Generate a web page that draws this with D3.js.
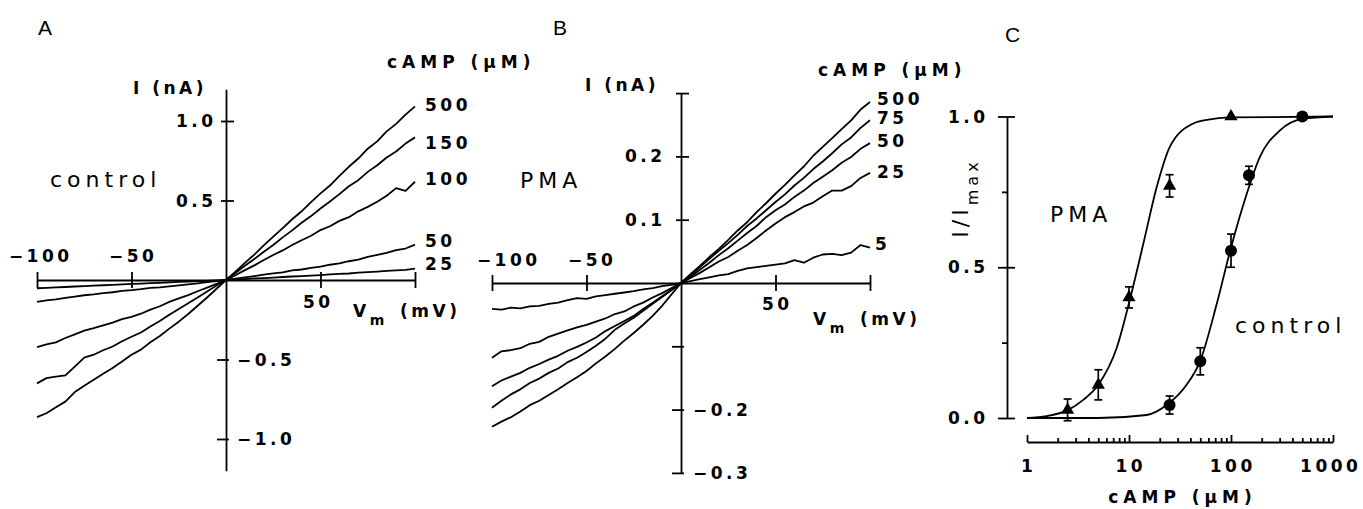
<!DOCTYPE html>
<html>
<head>
<meta charset="utf-8">
<title>cAMP I-V curves</title>
<script src="https://cdn.jsdelivr.net/npm/d3@7/dist/d3.min.js"></script>
<style>
  body { margin: 0; background: #fff; }
  text { fill: #000; }
  .lab { font-family: "DejaVu Sans", sans-serif; font-size: 17px; font-weight: bold; letter-spacing: 3.5px; }
  .wide { letter-spacing: 5px; }
  .word { font-family: "DejaVu Sans", sans-serif; font-size: 22px; letter-spacing: 5px; }
  .panel { font-family: "Liberation Sans", Arial, sans-serif; font-size: 21px; }
</style>
</head>
<body>
<div id="figure"></div>
<script>
// ---------- data ----------

// ramp voltages (mV) shared by every I-V trace
const ivVoltage = [-100, -95, -90, -85, -80, -75, -70, -65, -60, -55, -50, -45, -40, -35, -30, -25, -20, -15, -10, -5,
  0, 5, 10, 15, 20, 25, 30, 35, 40, 45, 50, 55, 60, 65, 70, 75, 80, 85, 90, 95, 100];

// panel A, control, current in nA
const controlLabels = ['500', '150', '100', '50', '25'];
const control500 = [-0.862, -0.838, -0.800, -0.765, -0.705, -0.665, -0.628, -0.590, -0.553, -0.512, -0.470, -0.438, -0.392, -0.352, -0.306, -0.262, -0.214, -0.162, -0.110, -0.055,
  0, 0.052, 0.108, 0.160, 0.218, 0.273, 0.326, 0.382, 0.432, 0.490, 0.545, 0.594, 0.655, 0.712, 0.764, 0.826, 0.872, 0.935, 0.982, 1.040, 1.092];
const control150 = [-0.650, -0.617, -0.608, -0.600, -0.545, -0.488, -0.470, -0.442, -0.418, -0.385, -0.357, -0.330, -0.292, -0.258, -0.218, -0.182, -0.146, -0.110, -0.072, -0.035,
  0, 0.044, 0.090, 0.132, 0.178, 0.220, 0.268, 0.312, 0.360, 0.402, 0.450, 0.494, 0.540, 0.590, 0.628, 0.680, 0.722, 0.770, 0.808, 0.858, 0.897];
const control100 = [-0.422, -0.405, -0.392, -0.365, -0.342, -0.318, -0.302, -0.285, -0.268, -0.246, -0.232, -0.212, -0.186, -0.165, -0.138, -0.116, -0.095, -0.071, -0.048, -0.024,
  0, 0.030, 0.062, 0.092, 0.126, 0.157, 0.186, 0.220, 0.250, 0.278, 0.314, 0.338, 0.372, 0.395, 0.432, 0.460, 0.492, 0.530, 0.578, 0.560, 0.618];
const control50 = [-0.138, -0.128, -0.122, -0.112, -0.104, -0.096, -0.090, -0.082, -0.077, -0.068, -0.064, -0.058, -0.050, -0.046, -0.040, -0.034, -0.028, -0.021, -0.014, -0.007,
  0, 0.008, 0.016, 0.025, 0.034, 0.042, 0.048, 0.060, 0.066, 0.076, 0.084, 0.096, 0.104, 0.118, 0.128, 0.145, 0.158, 0.170, 0.188, 0.198, 0.222];
const control25 = [-0.052, -0.049, -0.046, -0.044, -0.041, -0.038, -0.036, -0.033, -0.031, -0.028, -0.025, -0.023, -0.020, -0.018, -0.015, -0.012, -0.010, -0.007, -0.005, -0.002,
  0, 0.003, 0.006, 0.010, 0.012, 0.015, 0.019, 0.022, 0.025, 0.028, 0.031, 0.035, 0.038, 0.041, 0.046, 0.050, 0.053, 0.057, 0.060, 0.064, 0.072];

// panel B, PMA, current in nA
const pmaLabels = ['500', '75', '50', '25', '5'];
const pma500 = [-0.227, -0.219, -0.212, -0.203, -0.193, -0.186, -0.177, -0.168, -0.158, -0.149, -0.139, -0.127, -0.116, -0.104, -0.091, -0.079, -0.066, -0.052, -0.036, -0.018,
  0, 0.014, 0.027, 0.041, 0.054, 0.068, 0.083, 0.096, 0.112, 0.126, 0.141, 0.155, 0.170, 0.184, 0.201, 0.215, 0.229, 0.243, 0.257, 0.274, 0.286];
const pma75 = [-0.197, -0.186, -0.176, -0.168, -0.158, -0.151, -0.142, -0.135, -0.125, -0.118, -0.109, -0.099, -0.088, -0.074, -0.064, -0.055, -0.044, -0.033, -0.022, -0.011,
  0, 0.012, 0.025, 0.038, 0.051, 0.063, 0.076, 0.090, 0.102, 0.115, 0.128, 0.140, 0.154, 0.166, 0.180, 0.192, 0.205, 0.219, 0.230, 0.245, 0.257];
const pma50 = [-0.163, -0.154, -0.148, -0.142, -0.134, -0.128, -0.121, -0.115, -0.107, -0.101, -0.094, -0.086, -0.076, -0.068, -0.060, -0.052, -0.041, -0.031, -0.021, -0.011,
  0, 0.010, 0.021, 0.032, 0.044, 0.055, 0.067, 0.079, 0.090, 0.104, 0.115, 0.124, 0.136, 0.146, 0.158, 0.168, 0.178, 0.190, 0.199, 0.212, 0.221];
const pma25 = [-0.118, -0.108, -0.106, -0.103, -0.096, -0.093, -0.085, -0.080, -0.075, -0.070, -0.066, -0.061, -0.056, -0.049, -0.045, -0.037, -0.031, -0.023, -0.016, -0.008,
  0, 0.008, 0.016, 0.025, 0.034, 0.041, 0.051, 0.060, 0.071, 0.083, 0.094, 0.104, 0.112, 0.121, 0.127, 0.137, 0.146, 0.146, 0.153, 0.166, 0.174];
const pma5 = [-0.041, -0.042, -0.039, -0.040, -0.037, -0.036, -0.033, -0.031, -0.027, -0.024, -0.025, -0.021, -0.019, -0.017, -0.015, -0.013, -0.010, -0.008, -0.005, -0.003,
  0, 0.003, 0.006, 0.009, 0.012, 0.014, 0.019, 0.023, 0.025, 0.027, 0.029, 0.031, 0.036, 0.032, 0.040, 0.045, 0.046, 0.044, 0.048, 0.060, 0.056];

// axis ticks of the I-V panels
const ivXTicks = [-100, -50, 50, 100];
const ivXTickLabels = ['−100', '−50', '50'];
const controlYTicks = [1.0, 0.5, -0.5, -1.0];
const controlYLabelled = [1.0, 0.5, -0.5, -1.0];
const pmaYTicks = [0.3, 0.2, 0.1, -0.1, -0.2, -0.3];
const pmaYLabelled = [0.2, 0.1, -0.2, -0.3];

// panel C, dose response (I/Imax), mean and error
const pmaConc = [2.5, 5, 10, 25, 100];
const pmaMean = [0.027, 0.11, 0.40, 0.77, 1.0];
const pmaErr = [0.036, 0.05, 0.035, 0.037, 0];
const ctrlConc = [25, 50, 100, 150, 500];
const ctrlMean = [0.043, 0.188, 0.555, 0.805, 1.0];
const ctrlErr = [0.03, 0.045, 0.055, 0.03, 0];

// fitted curves
const pmaFitConc = [1, 1.56, 2.54, 3.56, 5, 7.57, 10.2, 13.8, 18.7, 25.2, 42.7, 60, 98, 1000];
const pmaFitVal = [0, 0.006, 0.027, 0.06, 0.11, 0.232, 0.393, 0.577, 0.766, 0.90, 0.977, 0.99, 0.997, 1.0];
const ctrlFitConc = [1, 5, 14.9, 23.4, 36.7, 49.7, 72.3, 98, 142.5, 192, 302, 511, 1000];
const ctrlFitVal = [0, 0, 0.01, 0.043, 0.11, 0.188, 0.377, 0.554, 0.743, 0.866, 0.954, 0.993, 1.0];

const doseTicks = [1, 10, 100, 1000];
const doseTickLabels = ['1', '10', '100', '1000'];
const ratioTicks = [0, 0.25, 0.5, 0.75, 1];
const ratioLabelled = [1.0, 0.5, 0.0];

// ---------- drawing ----------

// letter spacing of each text class, needed to re-centre anchored text
const spacing = {lab: 3.5, 'lab wide': 5, word: 5, panel: 0};
const svg = d3.select('#figure').append('svg')
  .attr('width', 1363)
  .attr('height', 509);

// plain text helper, shifts end/middle anchored text to undo trailing letter spacing
function put(parent, str, x, y, cls, anchor) {
  const ls = spacing[cls] || 0;
  const shift = anchor === 'end' ? ls : anchor === 'middle' ? ls / 2 : 0;
  return parent.append('text')
    .attr('class', cls)
    .attr('x', x + shift)
    .attr('y', y)
    .attr('text-anchor', anchor || 'start')
    .text(str);
}

function blackAxis(a) {
  a.selectAll('.domain, .tick line')
    .attr('stroke', '#000')
    .attr('stroke-width', 1.8);
}

function drawIV(cfg) {
  const x = d3.scaleLinear().domain([-100, 100]).range(cfg.xRange);
  const y = d3.scaleLinear().domain(cfg.yDomain).range(cfg.yRange);
  const g = svg.append('g');

  // voltage axis through zero current
  g.append('g')
    .attr('transform', `translate(0,${y(0)})`)
    .call(d3.axisBottom(x).tickValues(ivXTicks).tickSizeOuter(0).tickFormat(''))
    .call(a => a.selectAll('.tick line').attr('y1', -8).attr('y2', 8))
    .call(blackAxis);

  // current axis through zero voltage
  g.append('g')
    .attr('transform', `translate(${x(0)},0)`)
    .call(d3.axisLeft(y).tickValues(cfg.yTicks).tickSizeOuter(0).tickFormat(''))
    .call(a => a.selectAll('.tick line')
      .attr('x1', d => d > 0 ? -5 : -9)
      .attr('x2', d => d > 0 ? 8 : 3))
    .call(blackAxis);

  // traces
  const line = d3.line().x(d => x(d[0])).y(d => y(d[1]));
  g.selectAll('path.trace')
    .data(cfg.traces)
    .join('path')
    .attr('class', 'trace')
    .attr('d', t => line(ivVoltage.map((v, i) => [v, t[i]])))
    .attr('fill', 'none')
    .attr('stroke', '#000')
    .attr('stroke-width', 1.8)
    .attr('stroke-linejoin', 'round');

  // tick labels
  const fmt = d3.format('.1f');
  cfg.yLabelled.forEach(v => {
    if (v > 0) put(g, fmt(v), x(0) - cfg.posGap, y(v) + 6, 'lab', 'end');
    else put(g, fmt(v), x(0) + cfg.negGap, y(v) + 6, 'lab', 'start');
  });
  ivXTickLabels.forEach((t, i) => {
    const v = ivXTicks[i];
    put(g, t, x(v) + cfg.xLabelShift[i], v < 0 ? cfg.negLabelY : cfg.posLabelY, 'lab', 'middle');
  });

  // V_m (mV)
  const vm = put(g, 'V', cfg.vmX, cfg.vmY, 'lab');
  vm.append('tspan').attr('dy', 8).style('font-size', '14px').text('m');
  put(g, '(mV)', cfg.vmX + 47, cfg.vmY, 'lab');

  put(g, 'I (nA)', cfg.iX, cfg.iY, 'lab');
  put(g, 'cAMP (μM)', cfg.campX, cfg.campY, 'lab wide');

  // concentration labels at the ends of the traces
  cfg.names.forEach((n, i) => put(g, n, cfg.nameX[i], cfg.nameY[i], 'lab'));

  put(g, cfg.condition, cfg.condX, cfg.condY, 'word');
  put(g, cfg.letter, cfg.letterX, 35, 'panel');
}

// panel A
drawIV({
  letter: 'A', letterX: 38,
  condition: 'control', condX: 50, condY: 187,
  xRange: [37, 415], yDomain: [-1.2, 1.2], yRange: [470.8, 89.2],
  yTicks: controlYTicks, yLabelled: controlYLabelled, posGap: 13, negGap: 11,
  xLabelShift: [2, 0, -4], negLabelY: 262, posLabelY: 308,
  vmX: 353, vmY: 317, iX: 133, iY: 94, campX: 387, campY: 68,
  traces: [control500, control150, control100, control50, control25],
  names: controlLabels, nameX: [425, 425, 425, 425, 425], nameY: [111, 149, 185, 247, 270]
});

// panel B
drawIV({
  letter: 'B', letterX: 553,
  condition: 'PMA', condX: 520, condY: 188,
  xRange: [492, 870], yDomain: [-0.3, 0.3], yRange: [472.9, 93.1],
  yTicks: pmaYTicks, yLabelled: pmaYLabelled, posGap: 19, negGap: 12,
  xLabelShift: [15, 4, 0], negLabelY: 266, posLabelY: 310,
  vmX: 813, vmY: 325, iX: 585, iY: 91, campX: 818, campY: 76,
  traces: [pma500, pma75, pma50, pma25, pma5],
  names: pmaLabels, nameX: [877, 877, 877, 877, 875], nameY: [105, 124, 147, 178, 250]
});

// panel C, dose response
const xC = d3.scaleLog().domain([1, 1000]).range([1027, 1333]);
const yC = d3.scaleLinear().domain([0, 1]).range([418, 116.5]);
const gC = svg.append('g');
const isDecade = d => Math.abs(Math.log10(d) - Math.round(Math.log10(d))) < 1e-9;

gC.append('g')
  .attr('transform', 'translate(0,442)')
  .call(d3.axisBottom(xC).tickValues(xC.ticks()).tickSizeOuter(0).tickFormat(''))
  .call(a => a.selectAll('.tick line').attr('y2', d => isDecade(d) ? -7 : -4))
  .call(blackAxis);

gC.append('g')
  .attr('transform', 'translate(1007,0)')
  .call(d3.axisLeft(yC).tickValues(ratioTicks).tickSizeOuter(0).tickFormat(''))
  .call(a => a.selectAll('.tick line')
    .attr('x1', d => (d * 4) % 2 === 0 ? -9 : -5)
    .attr('x2', d => (d * 4) % 2 === 0 ? 8 : 0))
  .call(blackAxis);

const fitLine = d3.line().x(d => xC(d[0])).y(d => yC(d[1])).curve(d3.curveMonotoneX);
gC.selectAll('path.fit')
  .data([pmaFitConc.map((c, i) => [c, pmaFitVal[i]]), ctrlFitConc.map((c, i) => [c, ctrlFitVal[i]])])
  .join('path')
  .attr('class', 'fit')
  .attr('d', fitLine)
  .attr('fill', 'none')
  .attr('stroke', '#000')
  .attr('stroke-width', 1.8);

// error bars, both groups
const pts = pmaConc.map((c, i) => ({c, m: pmaMean[i], e: pmaErr[i], kind: 'pma'}))
  .concat(ctrlConc.map((c, i) => ({c, m: ctrlMean[i], e: ctrlErr[i], kind: 'ctrl'})));
const bars = gC.selectAll('g.err')
  .data(pts.filter(d => d.e > 0))
  .join('g')
  .attr('class', 'err')
  .attr('stroke', '#000')
  .attr('stroke-width', 1.7);
bars.append('line')
  .attr('x1', d => xC(d.c)).attr('x2', d => xC(d.c))
  .attr('y1', d => yC(d.m - d.e)).attr('y2', d => yC(d.m + d.e));
bars.append('line')
  .attr('x1', d => xC(d.c) - 4).attr('x2', d => xC(d.c) + 4)
  .attr('y1', d => yC(d.m + d.e)).attr('y2', d => yC(d.m + d.e));
bars.append('line')
  .attr('x1', d => xC(d.c) - 4).attr('x2', d => xC(d.c) + 4)
  .attr('y1', d => yC(d.m - d.e)).attr('y2', d => yC(d.m - d.e));

// markers
gC.selectAll('circle.ctrl')
  .data(pts.filter(d => d.kind === 'ctrl'))
  .join('circle')
  .attr('class', 'ctrl')
  .attr('cx', d => xC(d.c))
  .attr('cy', d => yC(d.m))
  .attr('r', 6)
  .attr('fill', '#000');
gC.selectAll('path.pma')
  .data(pts.filter(d => d.kind === 'pma'))
  .join('path')
  .attr('class', 'pma')
  .attr('d', d3.symbol(d3.symbolTriangle, 75))
  .attr('transform', d => `translate(${xC(d.c)},${yC(d.m)})`)
  .attr('fill', '#000');

// labels of panel C
const fmtC = d3.format('.1f');
ratioLabelled.forEach(v => put(gC, fmtC(v), 985, yC(v) + 6, 'lab', 'end'));
doseTickLabels.forEach((t, i) => put(gC, t, xC(doseTicks[i]) - (i === 3 ? 4 : 0), 472, 'lab', 'middle'));
put(gC, 'cAMP (μM)', 1180, 503, 'lab wide', 'middle');
put(gC, 'PMA', 1050, 222, 'word');
put(gC, 'control', 1235, 333, 'word');
put(gC, 'C', 1005, 42, 'panel');

const ratio = gC.append('text')
  .attr('class', 'word')
  .attr('transform', 'translate(968,198) rotate(-90)')
  .attr('text-anchor', 'middle')
  .style('letter-spacing', '4px');
ratio.append('tspan').text('I/I');
ratio.append('tspan').attr('dy', 10).style('font-size', '16px').text('max');
</script>
</body>
</html>
